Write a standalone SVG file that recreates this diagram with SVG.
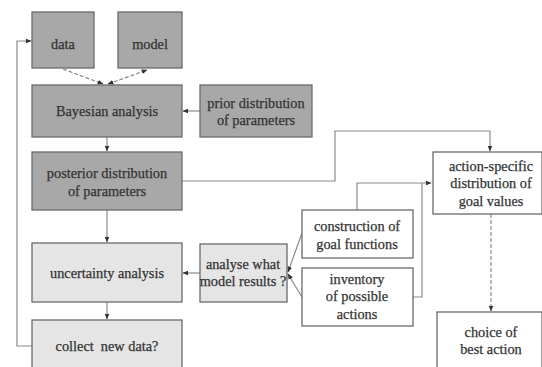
<svg xmlns="http://www.w3.org/2000/svg" width="542" height="367" viewBox="0 0 542 367">
<defs>
<style>
.dark{fill:#a8a8a8;stroke:#6a6a6a;stroke-width:1.3}
.light{fill:#e5e5e5;stroke:#6a6a6a;stroke-width:1.3}
.white{fill:#ffffff;stroke:#6a6a6a;stroke-width:1.3}
.t text{font-size:14.3px;fill:#333;stroke:#333;stroke-width:0.25;text-anchor:middle}
.c{fill:none;stroke:#8a8a8a;stroke-width:1.2}
.d{stroke-dasharray:4 2}
</style>
<marker id="ah" viewBox="0 0 10 10" refX="9" refY="5" markerWidth="5" markerHeight="5" orient="auto-start-reverse">
<path d="M0,1 L10,5 L0,9 z" fill="#333"/>
</marker>
</defs>
<rect width="542" height="367" fill="#fff"/>
<g id="connectors">
<path class="c d" d="M63,69 L103,84" marker-end="url(#ah)"/>
<path class="c d" d="M108,84 L147,70" marker-start="url(#ah)" marker-end="url(#ah)"/>
<path class="c" d="M200,111 L183,111" marker-end="url(#ah)"/>
<path class="c" d="M107,137 L107,151" marker-end="url(#ah)"/>
<path class="c" d="M107,210 L107,242" marker-end="url(#ah)"/>
<path class="c" d="M107,302 L107,319" marker-end="url(#ah)"/>
<path class="c" d="M32,346 L17,346 L17,41 L31,41" marker-end="url(#ah)"/>
<path class="c" d="M200,273 L183,273" marker-end="url(#ah)"/>
<path class="c" d="M302,233 L288,272" marker-end="url(#ah)"/>
<path class="c" d="M302,297 L288,274" marker-end="url(#ah)"/>
<path class="c" d="M182,181 L335,181 L335,131 L490,131 L490,151" marker-end="url(#ah)"/>
<path class="c" d="M357,210 L357,183 L431,183" marker-end="url(#ah)"/>
<path class="c" d="M413,297 L422,297 L422,183"/>
<path class="c d" d="M491,214 L491,311" marker-end="url(#ah)"/>
</g>
<g class="t" font-family="'Liberation Serif', 'Times New Roman', 'DejaVu Serif', serif">
<g id="data"><rect class="dark" x="32" y="12" width="62" height="56"/><text x="63" y="49">data</text></g>
<g id="model"><rect class="dark" x="118" y="12" width="64" height="56"/><text x="150" y="49">model</text></g>
<g id="bayesian"><rect class="dark" x="32" y="85" width="150" height="52"/><text x="107" y="116">Bayesian analysis</text></g>
<g id="prior"><rect class="dark" x="200" y="85" width="112" height="52"/><text x="256" y="108">prior distribution</text><text x="256" y="125">of parameters</text></g>
<g id="posterior"><rect class="dark" x="32" y="152" width="150" height="58"/><text x="107" y="178">posterior distribution</text><text x="107" y="196">of parameters</text></g>
<g id="uncertainty"><rect class="light" x="32" y="243" width="150" height="59"/><text x="107" y="278">uncertainty analysis</text></g>
<g id="collect"><rect class="light" x="32" y="320" width="150" height="52"/><text x="107" y="351" xml:space="preserve">collect  new data?</text></g>
<g id="analyse"><rect class="light" x="200" y="244" width="87" height="58"/><text x="243" y="269">analyse what</text><text x="243" y="286">model results ?</text></g>
<g id="construction"><rect class="white" x="302" y="210" width="111" height="48"/><text x="357" y="231">construction of</text><text x="357" y="249">goal functions</text></g>
<g id="inventory"><rect class="white" x="302" y="268" width="111" height="58"/><text x="357" y="284">inventory</text><text x="357" y="301">of possible</text><text x="357" y="319">actions</text></g>
<g id="actionspecific"><rect class="white" x="433" y="152" width="109" height="62"/><text x="491" y="171">action-specific</text><text x="491" y="188">distribution of</text><text x="491" y="206">goal values</text></g>
<g id="choice"><rect class="white" x="437" y="312" width="105" height="60"/><text x="491" y="337">choice of</text><text x="491" y="354">best action</text></g>
</g>
</svg>
